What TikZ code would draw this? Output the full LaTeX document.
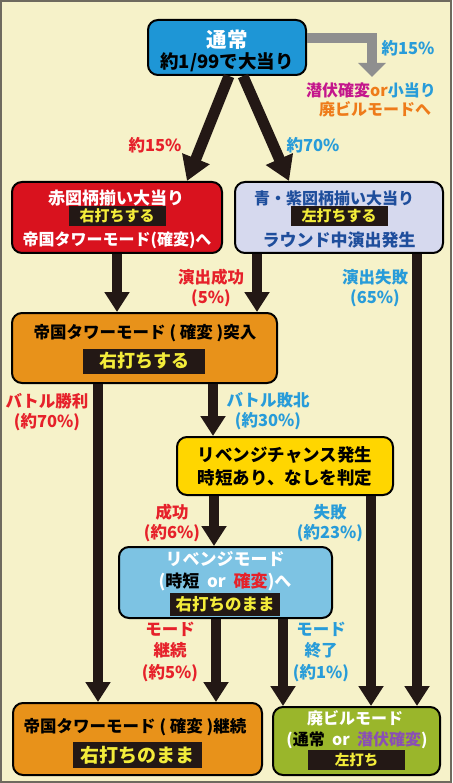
\documentclass[tikz,border=0pt]{standalone}
\usepackage{fontspec}
\setmainfont{Noto Sans CJK JP}
\usepackage{xcolor}
\usetikzlibrary{arrows.meta}

\definecolor{cream}{HTML}{F6F2C9}
\definecolor{framegray}{HTML}{6E6A5E}
\definecolor{tsujoblue}{HTML}{1E96D6}
\definecolor{akared}{HTML}{D9121E}
\definecolor{aolav}{HTML}{D6D9EE}
\definecolor{aotext}{HTML}{1F4E9C}
\definecolor{teikokuorange}{HTML}{E8921A}
\definecolor{revyellow}{HTML}{FFD600}
\definecolor{revblue}{HTML}{7DC3E3}
\definecolor{haigreen}{HTML}{9AB62B}
\definecolor{stripyellow}{HTML}{F3EC3A}
\definecolor{stripblack}{HTML}{231815}
\definecolor{labelred}{HTML}{E6212A}
\definecolor{labelblue}{HTML}{289CD9}
\definecolor{senmagenta}{HTML}{C4168C}
\definecolor{orangetext}{HTML}{EE7B1A}
\definecolor{senpurple}{HTML}{8A4FB5}
\definecolor{arrowgray}{HTML}{8F8F8F}
\definecolor{arrowblack}{HTML}{231815}

\newcommand{\fsz}[1]{\fontsize{#1}{#1}\selectfont}

\tikzset{
  box/.style={draw=black, line width=2pt, rounded corners=10pt, inner sep=0pt},
  txt/.style={inner sep=0pt, align=center, font=\bfseries\fsz{16}},
  lbl/.style={inner sep=0pt, align=center, font=\bfseries\fontsize{16.5}{20}\selectfont},
  strip/.style={fill=stripblack, text=stripyellow, inner sep=0pt, font=\bfseries\fsz{15}},
  fat/.style={draw=arrowblack, line width=10pt, -{Triangle[width=24pt,length=20pt]}},
  fatdiag/.style={draw=arrowblack, line width=11pt, -{Triangle[width=28pt,length=24pt]}},
}

\begin{document}
\begin{tikzpicture}[x=1pt, y=-1pt]
  % Background
  \fill[cream] (0,0) rectangle (452,783);
  \draw[framegray, line width=2pt] (1,1) rectangle (451,782);
  \useasboundingbox (0,0) rectangle (452,783);

  % Normal mode
  \node[box, fill=tsujoblue, minimum width=158pt, minimum height=55pt] (tsujo) at (227,47.5) {};
  \node[txt, text=white, font=\bfseries\fsz{20.5}] (tsujoT) at (227,40) {通常};
  \node[txt, font=\bfseries\fsz{18.5}] (tsujoB) at (227,62) {約1/99で大当り};

  % Red jackpot
  \node[box, fill=akared, minimum width=210pt, minimum height=71pt] (aka) at (117,217.5) {};
  \node[txt, text=white, font=\bfseries\fsz{17}] (akaT) at (116,198) {赤図柄揃い大当り};
  \node[strip, minimum width=97pt, minimum height=20pt] (akaS) at (117,216) {右打ちする};
  \node[txt, text=white] (akaB) at (117,240) {帝国タワーモード(確変)へ};

  % Blue / purple jackpot
  \node[box, fill=aolav, minimum width=208pt, minimum height=71pt] (ao) at (339,217.5) {};
  \node[txt, text=aotext] (aoT) at (334,198) {青・紫図柄揃い大当り};
  \node[strip, minimum width=97pt, minimum height=20pt] (aoS) at (339,216) {左打ちする};
  \node[txt, text=aotext, font=\bfseries\fsz{17}] (aoB) at (339,240) {ラウンド中演出発生};

  % Tower mode entry
  \node[box, fill=teikokuorange, minimum width=265pt, minimum height=70pt] (teikoku) at (144.5,348) {};
  \node[txt, font=\bfseries\fsz{16.5}] (teikokuT) at (145,333) {帝国タワーモード ( 確変 )突入};
  \node[strip, minimum width=122pt, minimum height=25pt, font=\bfseries\fsz{18}] (teikokuS) at (144,361) {右打ちする};

  % Revenge chance
  \node[box, fill=revyellow, minimum width=216pt, minimum height=58pt] (revch) at (285,466) {};
  \node[txt, font=\bfseries\fsz{17.5}] (revchT) at (285,455) {リベンジチャンス発生};
  \node[txt, font=\bfseries\fsz{17.5}] (revchB) at (285,478) {時短あり、なしを判定};

  % Revenge mode
  \node[box, fill=revblue, minimum width=213pt, minimum height=71pt] (revmode) at (225.5,582.5) {};
  \node[txt, text=white, font=\bfseries\fsz{17}] (revmodeT) at (225,559) {リベンジモード};
  \node[txt, font=\bfseries\fsz{17}] (revmodeM) at (225,582)
    {{\color{white}(}時短{\color{white}~~or~~}{\color{labelred}確変}{\color{white})へ}};
  \node[strip, minimum width=110pt, minimum height=23pt, font=\bfseries\fsz{16.5}] (revmodeS) at (225,604) {右打ちのまま};

  % Tower mode continues
  \node[box, fill=teikokuorange, minimum width=249pt, minimum height=72pt] (keizoku) at (137.5,739) {};
  \node[txt, font=\bfseries\fsz{16.5}] (keizokuT) at (135,727) {帝国タワーモード ( 確変 )継続};
  \node[strip, minimum width=129pt, minimum height=26pt, font=\bfseries\fsz{19}] (keizokuS) at (137.5,755) {右打ちのまま};

  % Abandoned building mode
  \node[box, fill=haigreen, minimum width=167pt, minimum height=68pt] (haibiru) at (356.5,741) {};
  \node[txt, text=white] (haibiruT) at (355,718) {廃ビルモード};
  \node[txt] (haibiruM) at (357,740)
    {{\color{white}(}通常{\color{white}~~or~~}{\color{senpurple}潜伏確変}{\color{white})}};
  \node[strip, minimum width=97pt, minimum height=20pt, font=\bfseries\fsz{14.5}] (haibiruS) at (356.5,760) {左打ち};

  % Gray branch to the side
  \coordinate (grayend) at (372,77);
  \draw[arrowgray, line width=10pt, -{Triangle[width=27pt,length=14pt]}]
    ([yshift=9.5pt]tsujo.east) -| (grayend);
  \node[lbl, text=labelblue] (sideP) at (408,48) {約15\%};
  \node[txt] (sideT) at (371,90)
    {{\color{senmagenta}潜伏確変}{\color{orangetext}or}{\color{labelblue}小当り}};
  \node[txt, text=orangetext] (sideB) at (375,109) {廃ビルモードへ};

  % Diagonal arrows
  \draw[fatdiag] ([xshift=2pt]tsujo.south) -- ([xshift=70pt]aka.north);
  \draw[fatdiag] ([xshift=16pt]tsujo.south) -- ([xshift=-50pt]ao.north);
  \node[lbl, text=labelred] (akaP) at (155,145) {約15\%};
  \node[lbl, text=labelblue] (aoP) at (313,145) {約70\%};

  % Start points of vertical arrows
  \coordinate (aoL) at ([xshift=-82pt]ao.south);
  \coordinate (aoR) at ([xshift=78pt]ao.south);
  \coordinate (teikokuL) at ([xshift=-46.5pt]teikoku.south);
  \coordinate (teikokuR) at ([xshift=68.5pt]teikoku.south);
  \coordinate (revchL) at ([xshift=-71pt]revch.south);
  \coordinate (revchR) at ([xshift=86pt]revch.south);
  \coordinate (revmodeL) at ([xshift=-9.5pt]revmode.south);
  \coordinate (revmodeR) at ([xshift=57.5pt]revmode.south);

  % Vertical arrows
  \draw[fat] (aka.south) -- (aka.south |- teikoku.north);
  \draw[fat] (aoL) -- (aoL |- teikoku.north);
  \draw[fat] (aoR) -- (aoR |- haibiru.north);
  \draw[fat] (teikokuL) -- (teikokuL |- keizoku.north);
  \draw[fat] (teikokuR) -- (teikokuR |- revch.north);
  \draw[fat] (revchL) -- (revchL |- revmode.north);
  \draw[fat] (revchR) -- (revchR |- haibiru.north);
  \draw[fat] (revmodeL) -- (revmodeL |- keizoku.north);
  \draw[fat] (revmodeR) -- (revmodeR |- haibiru.north);

  % Branch labels
  \node[lbl, text=labelred] (ensS) at (211,288) {演出成功\\(5\%)};
  \node[lbl, text=labelblue] (ensF) at (375,288) {演出失敗\\(65\%)};
  \node[lbl, text=labelred] (batW) at (47,412.5) {バトル勝利\\(約70\%)};
  \node[lbl, text=labelblue] (batL) at (268,411.5) {バトル敗北\\(約30\%)};
  \node[lbl, text=labelred] (revS) at (172,523) {成功\\(約6\%)};
  \node[lbl, text=labelblue] (revF) at (330,523) {失敗\\(約23\%)};
  \node[lbl, text=labelred, font=\bfseries\fontsize{16.5}{21.5}\selectfont] (modeK) at (170,651.5) {モード\\継続\\(約5\%)};
  \node[lbl, text=labelblue, font=\bfseries\fontsize{16.5}{21.5}\selectfont] (modeE) at (321,651.5) {モード\\終了\\(約1\%)};
\end{tikzpicture}
\end{document}
